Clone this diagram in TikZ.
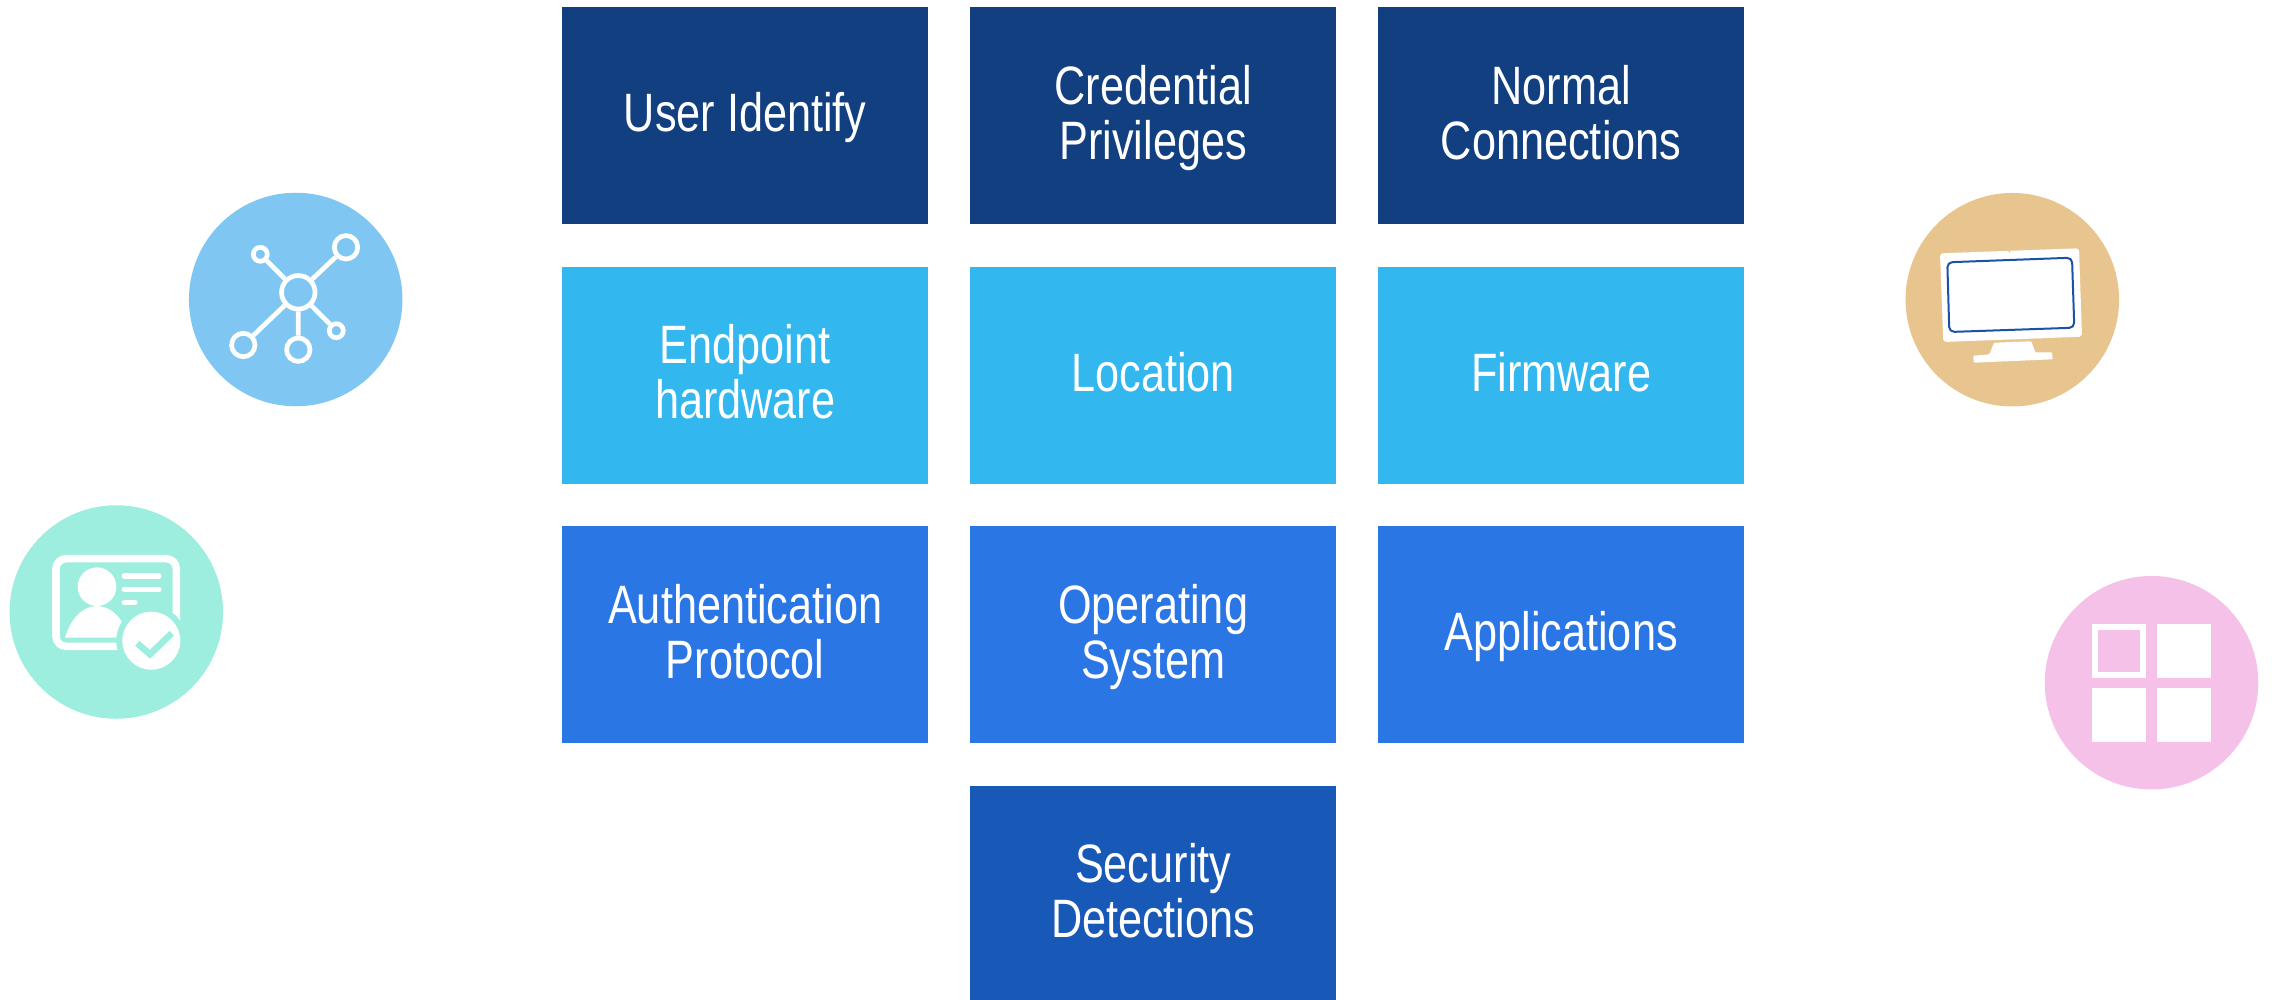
\documentclass[tikz,border=0pt]{standalone}
\usepackage{fontspec}
\setmainfont[FakeStretch=0.8]{Liberation Sans}
\definecolor{darkbox}{HTML}{123F7F}
\definecolor{cyanbox}{HTML}{32B7EF}
\definecolor{bluebox}{HTML}{2B76E5}
\definecolor{midbox}{HTML}{1859B8}
\definecolor{netdisc}{HTML}{7FC7F2}
\definecolor{iddisc}{HTML}{9DEEDE}
\definecolor{screendisc}{HTML}{E8C58F}
\definecolor{appdisc}{HTML}{F6C1E8}
\definecolor{screenline}{HTML}{1A52A8}
\newcommand{\tilestrut}{\rule[-3.16pt]{0pt}{15.56pt}}
\tikzset{
  tile/.style = {minimum width=3.657cm, minimum height=2.17cm, inner sep=0pt, align=center,
    text=white, font=\fontsize{15.37pt}{15.65pt}\selectfont},
  disc/.style = {circle, minimum size=2.134cm, inner sep=0pt},
  hub/.style = {circle, draw=white, line width=0.047cm, inner sep=0pt, minimum size=#1},
  spoke/.style = {white, line width=0.047cm},
  textline/.style = {white, line width=0.053cm, line cap=round}
}

\begin{document}
\begin{tikzpicture}[x=0.01cm, y=-0.01cm]
  \useasboundingbox (0,0) rectangle (2272,1000);
  \node[tile, fill=darkbox] (user) at (745.15,115.5) {\tilestrut User Identify};
  \node[tile, fill=darkbox] (credential) at (1153.15,115.5) {\tilestrut Credential\\\tilestrut Privileges};
  \node[tile, fill=darkbox] (connections) at (1561.15,115.5) {\tilestrut Normal\\\tilestrut Connections};
  \node[tile, fill=cyanbox] (endpoint) at (745.15,375.2) {\tilestrut Endpoint\\\tilestrut hardware};
  \node[tile, fill=cyanbox] (location) at (1153.15,375.2) {\tilestrut Location};
  \node[tile, fill=cyanbox] (firmware) at (1561.15,375.2) {\tilestrut Firmware};
  \node[tile, fill=bluebox] (protocol) at (745.15,634.5) {\tilestrut Authentication\\\tilestrut Protocol};
  \node[tile, fill=bluebox] (system) at (1153.15,634.5) {\tilestrut Operating\\\tilestrut System};
  \node[tile, fill=bluebox] (applications) at (1561.15,634.5) {\tilestrut Applications};
  \node[tile, fill=midbox] (detections) at (1153.15,894.2) {\tilestrut Security\\\tilestrut Detections};

  \node[disc, fill=netdisc] (netdisc) at (295.7,299.5) {};
  \node[disc, fill=iddisc] (iddisc) at (116.3,612) {};
  \node[disc, fill=screendisc] (screendisc) at (2012.3,299.7) {};
  \node[disc, fill=appdisc] (appdisc) at (2151.5,682.7) {};

  \node[hub=0.335cm] (center) at (298.3,292.3) {};
  \node[hub=0.234cm] (topright) at (346,247.3) {};
  \node[hub=0.14cm] (topleft) at (260.3,254.3) {};
  \node[hub=0.14cm] (lowright) at (336.3,330.7) {};
  \node[hub=0.234cm] (lowleft) at (243.3,345) {};
  \node[hub=0.234cm] (bottom) at (298.3,349.7) {};
  \draw[spoke]
  (center) -- (topright)
  (center) -- (topleft)
  (center) -- (lowright)
  (center) -- (lowleft)
  (center) -- (bottom);

  \draw[white, line width=0.075cm, rounded corners=0.1cm] (56,558.7) rectangle (176.3,646.3);
  \fill[white] (97,586.7) circle (0.193cm);
  \fill[white] (65,637.7) .. controls (71,618) and (83,606) .. (97,606)
  .. controls (111,606) and (123,618) .. (129,637.7) -- cycle;
  \draw[textline] (124.3,576) -- (159,576);
  \draw[textline] (124.3,589.3) -- (159,589.3);
  \draw[textline] (124.3,602.7) -- (135,602.7);
  \fill[iddisc] (151.3,640.7) circle (0.35cm);
  \fill[white] (151.3,640.7) circle (0.29cm);
  \draw[iddisc, line width=0.065cm] (137.3,643.3) -- (150,654.3) -- (171.7,633.3);

  \fill[white, rounded corners=0.03cm] (1940,253.3) -- (2079,248.3) -- (2082,336.7) -- (1943.3,342) -- cycle;
  \fill[screendisc] (2009.3,251.7) circle (0.01cm);
  \draw[screenline, fill=white, line width=0.02cm, rounded corners=0.05cm]
  (1947.3,262.3) -- (2072,257.7) -- (2074.3,327.7) -- (1949.3,332) -- cycle;
  \fill[white, rounded corners=0.01cm] (1994,342.7) -- (2031.3,341.3) -- (2035.3,352.3) -- (2052,352.3)
  -- (2052.7,359.3) -- (1973.7,362.7) -- (1973.3,355.7) -- (1989.3,354.3) -- cycle;

  \draw[white, line width=0.057cm] (2094.8,626.8) rectangle (2142.8,674.8);
  \fill[white] (2157,624) rectangle (2211,677.7);
  \fill[white] (2092,688) rectangle (2146,742);
  \fill[white] (2157,688) rectangle (2211,742);
\end{tikzpicture}
\end{document}
